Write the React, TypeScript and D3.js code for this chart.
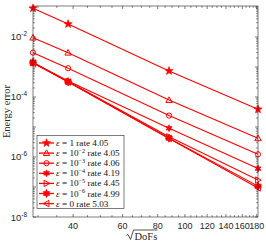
import React, { useEffect, useRef } from "react";
import * as d3 from "d3";

// sqrt(DoFs) for the four meshes
const dofs = [28.8, 38.4, 87.8, 182];

const epsLabels = ["1", "-2", "-3", "-4", "-5", "-6", "0"];
const rates = ["4.05", "4.05", "4.06", "4.19", "4.45", "4.99", "5.03"];
const markers = ["star", "triUp", "circle", "asterisk", "triRight", "hexagram", "triLeft"];

const errEps1 = [0.091, 0.027, 7.4e-4, 3.9e-5];
const errEps2 = [9.5e-3, 3.0e-3, 7.9e-5, 4.2e-6];
const errEps3 = [3.0e-3, 9.1e-4, 2.4e-5, 1.23e-6];
const errEps4 = [1.38e-3, 3.4e-4, 9.1e-6, 4.1e-7];
const errEps5 = [1.38e-3, 3.3e-4, 4.7e-6, 1.7e-7];
const errEps6 = [1.45e-3, 3.2e-4, 4.2e-6, 1.07e-7];
const errEps0 = [1.35e-3, 3.15e-4, 4.15e-6, 9.3e-8];

const series = [errEps1, errEps2, errEps3, errEps4, errEps5, errEps6, errEps0];

const xTicks = [40, 60, 80, 100, 120, 140, 160, 180];
const yLabelExps = [-2, -4, -6, -8];

const RED = "#ff0000";
const AX = "#262626";

function starPath(r: number, n: number, inner: number) {
  const pts: string[] = [];
  for (let i = 0; i < 2 * n; i++) {
    const rr = i % 2 === 0 ? r : r * inner;
    const a = (Math.PI * i) / n - Math.PI / 2;
    pts.push(`${rr * Math.cos(a)},${rr * Math.sin(a)}`);
  }
  return "M" + pts.join("L") + "Z";
}

function drawMarker(g: d3.Selection<SVGGElement, unknown, null, undefined>, kind: string) {
  const s = 3.2;
  const open = (p: d3.Selection<SVGPathElement, unknown, null, undefined>) =>
    p.attr("fill", "none").attr("stroke", RED).attr("stroke-width", 1);
  if (kind === "star") {
    g.append("path").attr("d", starPath(4.3, 5, 0.42)).attr("fill", RED).attr("stroke", RED).attr("stroke-width", 0.6);
  } else if (kind === "triUp") {
    open(g.append("path").attr("d", `M0,${-s}L${s},${s * 0.75}L${-s},${s * 0.75}Z`));
  } else if (kind === "triRight") {
    open(g.append("path").attr("d", `M${s},0L${-s * 0.75},${-s}L${-s * 0.75},${s}Z`));
  } else if (kind === "triLeft") {
    open(g.append("path").attr("d", `M${-s},0L${s * 0.75},${-s}L${s * 0.75},${s}Z`));
  } else if (kind === "circle") {
    g.append("circle").attr("r", 2.6).attr("fill", "none").attr("stroke", RED).attr("stroke-width", 1);
  } else if (kind === "asterisk") {
    g.append("path").attr("d", starPath(3.4, 6, 0.5)).attr("fill", RED).attr("stroke", RED).attr("stroke-width", 0.8);
  } else if (kind === "hexagram") {
    g.append("path").attr("d", starPath(3.8, 6, 0.62)).attr("fill", RED).attr("stroke", RED).attr("stroke-width", 0.6);
    g.append("path").attr("d", "M-4,0H4M0,-4V4").attr("stroke", RED).attr("stroke-width", 1);
  }
}

const App = () => {
  const svgRef = useRef<SVGSVGElement | null>(null);

  useEffect(() => {
    if (!svgRef.current) return;
    const svg = d3.select(svgRef.current);
    svg.selectAll("*").remove();

    const left = 33, right = 258, top = 6, bottom = 217;
    const x = d3.scaleLog().domain([dofs[0], dofs[dofs.length - 1]]).range([left, right]);
    const y = d3.scaleLog().domain([1e-8, Math.pow(10, -0.967)]).range([bottom, top]);

    svg.append("rect").attr("x", left).attr("y", top).attr("width", right - left).attr("height", bottom - top)
      .attr("fill", "white");

    const axes = svg.append("g").attr("stroke", AX).attr("stroke-width", 0.6).attr("fill", "none");

    // x ticks (minor every 5, major at labels)
    const xMinor = d3.range(30, 181, 5);
    xMinor.forEach(v => {
      const px = x(v);
      const len = xTicks.includes(v) ? 3 : 1.8;
      axes.append("line").attr("x1", px).attr("x2", px).attr("y1", bottom).attr("y2", bottom - len);
      axes.append("line").attr("x1", px).attr("x2", px).attr("y1", top).attr("y2", top + len);
    });

    // y ticks
    for (let e = -8; e <= -1; e++) {
      for (let m = 1; m <= 9; m++) {
        const v = m * Math.pow(10, e);
        if (v < 1e-8 || v > y.domain()[1]) continue;
        const py = y(v);
        const len = m === 1 ? 3 : 1.8;
        axes.append("line").attr("x1", left).attr("x2", left + len).attr("y1", py).attr("y2", py);
        axes.append("line").attr("x1", right).attr("x2", right - len).attr("y1", py).attr("y2", py);
      }
    }

    // lines and markers
    const line = d3.line<number>().x((_, i) => x(dofs[i])).y(d => y(d));
    const plot = svg.append("g");
    series.forEach((vals, si) => {
      plot.append("path").datum(vals).attr("d", line).attr("fill", "none")
        .attr("stroke", RED).attr("stroke-width", 1.1);
      vals.forEach((v, i) => {
        const g = plot.append("g").attr("transform", `translate(${x(dofs[i])},${y(v)})`);
        drawMarker(g, markers[si]);
      });
    });

    // box
    svg.append("rect").attr("x", left).attr("y", top).attr("width", right - left).attr("height", bottom - top)
      .attr("fill", "none").attr("stroke", AX).attr("stroke-width", 0.6);

    // x tick labels
    xTicks.forEach(v => {
      svg.append("text").attr("x", x(v)).attr("y", bottom + 12).attr("text-anchor", "middle")
        .attr("font-family", "Liberation Sans, Arial, sans-serif").attr("font-size", 9).attr("fill", AX)
        .text(v);
    });

    // y tick labels
    yLabelExps.forEach(e => {
      const t = svg.append("text").attr("x", left - 6).attr("y", y(Math.pow(10, e)) + 3.5)
        .attr("text-anchor", "end").attr("font-family", "Liberation Sans, Arial, sans-serif")
        .attr("font-size", 9.5).attr("fill", AX);
      t.append("tspan").text("10");
      t.append("tspan").attr("dy", -4).attr("font-size", 6.5).text(`-${-e}`);
    });

    // axis labels
    svg.append("text").attr("transform", `translate(10,${(top + bottom) / 2}) rotate(-90)`)
      .attr("text-anchor", "middle").attr("font-family", "Liberation Serif, DejaVu Serif, serif")
      .attr("font-size", 10.5).attr("fill", AX).text("Energy error");

    const xl = svg.append("g").attr("transform", `translate(${(left + right) / 2},${bottom + 23})`);
    xl.append("path").attr("d", "M-19,-4.5L-17.5,-5.5L-15,-0.5L-12,-10H12")
      .attr("fill", "none").attr("stroke", AX).attr("stroke-width", 0.8);
    xl.append("text").attr("x", -11).attr("y", 0).attr("font-family", "Liberation Serif, serif")
      .attr("font-size", 10.5).attr("fill", AX).text("DoFs");

    // legend
    const lg = svg.append("g");
    lg.append("rect").attr("x", 37).attr("y", 135.5).attr("width", 87).attr("height", 73)
      .attr("fill", "white").attr("stroke", AX).attr("stroke-width", 0.6);
    epsLabels.forEach((lab, i) => {
      const cy = 143 + i * 10.1;
      lg.append("line").attr("x1", 39).attr("x2", 54).attr("y1", cy).attr("y2", cy)
        .attr("stroke", RED).attr("stroke-width", 1.3);
      const mg = lg.append("g").attr("transform", `translate(46.5,${cy})`);
      drawMarker(mg, markers[i]);
      const t = lg.append("text").attr("x", 56).attr("y", cy + 3)
        .attr("font-family", "Liberation Serif, DejaVu Serif, serif").attr("font-size", 9.2).attr("fill", "#111");
      t.append("tspan").attr("font-style", "italic").text("ε");
      if (lab === "1" || lab === "0") {
        t.append("tspan").text(` = ${lab} rate ${rates[i]}`);
      } else {
        t.append("tspan").text(" = 10");
        t.append("tspan").attr("dy", -3.5).attr("font-size", 6.2).text(`−${-Number(lab)}`);
        t.append("tspan").attr("dy", 3.5).text(` rate ${rates[i]}`);
      }
    });
  }, []);

  return (
    <svg ref={svgRef} width={266} height={242}
      style={{ position: "absolute", left: 0, top: 0, background: "white" }} />
  );
};

export default App;
